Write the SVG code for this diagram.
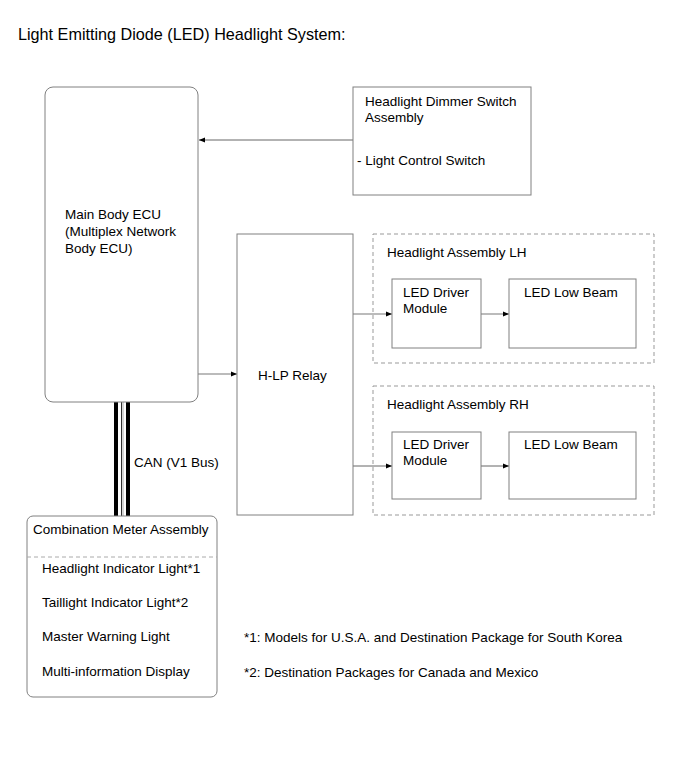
<svg xmlns="http://www.w3.org/2000/svg" width="690" height="759" viewBox="0 0 690 759">
<style>
text{font-family:"Liberation Sans",Arial,sans-serif;font-size:13.5px;fill:#000}
.title{font-size:16.2px}
.box{fill:#fff;stroke:#808080;stroke-width:1}
.dash{fill:none;stroke:#999;stroke-width:1;stroke-dasharray:4,3}
.ln{stroke:#666;stroke-width:1;fill:none}
.lg{stroke:#bbb;stroke-width:2;fill:none}
</style>
<defs>
<marker id="ah" viewBox="0 0 10 10" refX="10" refY="5" markerWidth="10" markerHeight="6" markerUnits="userSpaceOnUse" orient="auto">
<path d="M0,1 L10,5 L0,9 z" fill="#000"/>
</marker>
</defs>
<rect width="690" height="759" fill="#fff"/>
<text class="title" x="18" y="40">Light Emitting Diode (LED) Headlight System:</text>

<g id="connectors">
<line class="ln" x1="353" y1="140" x2="199" y2="140" marker-end="url(#ah)"/>
<line class="lg" x1="198" y1="374" x2="237" y2="374" marker-end="url(#ah)"/>
<line class="lg" x1="353" y1="314" x2="392" y2="314" marker-end="url(#ah)"/>
<line class="lg" x1="481" y1="314" x2="509" y2="314" marker-end="url(#ah)"/>
<line class="ln" x1="353" y1="466" x2="392" y2="466" marker-end="url(#ah)"/>
<line class="ln" x1="481" y1="466" x2="509" y2="466" marker-end="url(#ah)"/>
<g id="can-bus">
<rect x="114" y="402" width="4" height="114" fill="#000"/>
<line x1="121.5" y1="402" x2="121.5" y2="516" stroke="#333" stroke-width="1"/>
<line x1="123" y1="402" x2="123" y2="516" stroke="#aaa" stroke-width="1"/>
<rect x="126" y="402" width="4" height="114" fill="#000"/>
</g>
<text x="134" y="467">CAN (V1 Bus)</text>
</g>

<g id="main-body-ecu">
<rect class="box" x="45" y="87" width="153" height="315" rx="8"/>
<text x="65" y="219">Main Body ECU</text>
<text x="65" y="236">(Multiplex Network</text>
<text x="65" y="253">Body ECU)</text>
</g>

<g id="dimmer-switch">
<rect class="box" x="353" y="87" width="178" height="108"/>
<text x="365" y="106">Headlight Dimmer Switch</text>
<text x="365" y="122">Assembly</text>
<text x="357" y="165">- Light Control Switch</text>
</g>

<g id="hlp-relay">
<rect class="box" x="237" y="234" width="116" height="281"/>
<text x="258" y="380">H-LP Relay</text>
</g>

<g id="headlight-lh">
<rect class="dash" x="373" y="234" width="281" height="129"/>
<text x="387" y="257">Headlight Assembly LH</text>
</g>
<g id="led-driver-lh">
<rect class="box" x="392" y="279" width="89" height="69"/>
<text x="403" y="297">LED Driver</text>
<text x="403" y="313">Module</text>
</g>
<g id="led-low-lh">
<rect class="box" x="509" y="279" width="127" height="69"/>
<text x="524" y="297">LED Low Beam</text>
</g>

<g id="headlight-rh">
<rect class="dash" x="373" y="386" width="281" height="129"/>
<text x="387" y="409">Headlight Assembly RH</text>
</g>
<g id="led-driver-rh">
<rect class="box" x="392" y="432" width="89" height="67"/>
<text x="403" y="449">LED Driver</text>
<text x="403" y="465">Module</text>
</g>
<g id="led-low-rh">
<rect class="box" x="509" y="432" width="127" height="67"/>
<text x="524" y="449">LED Low Beam</text>
</g>

<g id="combination-meter">
<rect class="box" x="27" y="516" width="190" height="181" rx="6"/>
<line x1="27" y1="557" x2="217" y2="557" stroke="#aaa" stroke-width="1" stroke-dasharray="4,3"/>
<text x="33" y="534">Combination Meter Assembly</text>
<text x="42" y="573">Headlight Indicator Light*1</text>
<text x="42" y="607">Taillight Indicator Light*2</text>
<text x="42" y="641">Master Warning Light</text>
<text x="42" y="676">Multi-information Display</text>
</g>

<g id="footnotes">
<text x="244" y="642">*1: Models for U.S.A. and Destination Package for South Korea</text>
<text x="244" y="677">*2: Destination Packages for Canada and Mexico</text>
</g>
</svg>
